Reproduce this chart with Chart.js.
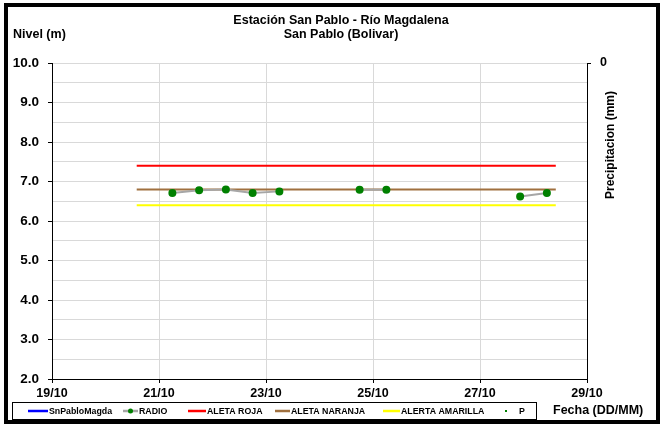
<!DOCTYPE html>
<html>
<head>
<meta charset="utf-8">
<script src="https://cdn.jsdelivr.net/npm/chart.js@4/dist/chart.umd.min.js"></script>
<style>
  html, body { margin: 0; padding: 0; background: #fff; }
  #wrap { width: 664px; height: 425px; }
</style>
</head>
<body>
<div id="wrap"><canvas id="nivelChart" width="664" height="425"></canvas></div>
<script>
const titleLines = ['Estación San Pablo - Río Magdalena', 'San Pablo (Bolivar)'];
const xTickLabels = ['19/10', '21/10', '23/10', '25/10', '27/10', '29/10'];
const radioTimes = ['21/10 06:00', '21/10 18:00', '22/10 06:00', '22/10 18:00', '23/10 06:00', '23/10 18:00',
  '24/10 06:00', '24/10 18:00', '25/10 06:00', '25/10 18:00', '26/10 06:00', '26/10 18:00',
  '27/10 06:00', '27/10 18:00', '28/10 06:00'];
const radioLevels = [6.71, 6.78, 6.80, 6.71, 6.75, null, null, 6.79, 6.79, null, null, null, null, 6.62, 6.71];
const alertTimes = ['20/10 14:00', '28/10 10:00'];
const alertaRoja = [7.4, 7.4];
const alertaNaranja = [6.8, 6.8];
const alertaAmarilla = [6.4, 6.4];
const precipTicks = [0];

const FONT = "'Liberation Sans', Arial, sans-serif";

// days since 19/10 00:00
function toDays(s) {
  const [d, t] = s.split(' ');
  const day = parseInt(d.split('/')[0], 10);
  const [hh, mm] = t.split(':').map(Number);
  return day - 19 + (hh + mm / 60) / 24;
}
function pts(times, vals) {
  return times.map((t, i) => ({ x: toDays(t), y: vals[i] }));
}

const legendItems = [
  { x: 28, w: 20, color: '#0000ff', text: 'SnPabloMagda' },
  { x: 123, w: 15, color: '#a6a6a6', dot: true, text: 'RADIO' },
  { x: 188, w: 18, color: '#ff0000', text: 'ALETA ROJA' },
  { x: 275, w: 15, color: '#a0703f', text: 'ALETA NARANJA' },
  { x: 383, w: 17, color: '#ffff00', text: 'ALERTA AMARILLA' },
  { x: 505, w: 4, color: null, smallDot: true, text: 'P' }
];

const frame = {
  id: 'frame',
  afterDraw(chart) {
    const c = chart.ctx;
    c.save();
    c.fillStyle = '#000';
    c.textAlign = 'center';
    c.textBaseline = 'middle';
    c.font = 'bold 12.5px ' + FONT;
    c.fillText(titleLines[0], 341, 21);
    c.fillText(titleLines[1], 341, 35);
    c.textAlign = 'left';
    c.fillText('Nivel (m)', 13, 35);
    c.fillText('Fecha (DD/MM)', 553, 411);

    c.save();
    c.translate(611, 145);
    c.rotate(-Math.PI / 2);
    c.textAlign = 'center';
    c.font = 'bold 12px ' + FONT;
    c.fillText('Precipitacion (mm)', 0, 0);
    c.restore();

    // legend box
    c.lineWidth = 1;
    c.strokeStyle = '#000';
    c.strokeRect(12.5, 402.5, 524, 17);
    c.font = 'bold 8.8px ' + FONT;
    legendItems.forEach(it => {
      const y = 411;
      if (it.color) {
        c.strokeStyle = it.color;
        c.lineWidth = 2.5;
        c.beginPath();
        c.moveTo(it.x, y);
        c.lineTo(it.x + it.w, y);
        c.stroke();
      }
      if (it.dot) {
        c.fillStyle = '#008000';
        c.beginPath();
        c.arc(it.x + it.w / 2, y, 2.5, 0, Math.PI * 2);
        c.fill();
      }
      if (it.smallDot) {
        c.fillStyle = '#008000';
        c.fillRect(it.x, y - 1, 2, 2);
      }
      c.fillStyle = '#000';
      c.fillText(it.text, it.smallDot ? it.x + 14 : it.x + it.w + 1, y + 0.5);
    });

    // outer border
    c.lineWidth = 4;
    c.strokeStyle = '#000';
    c.strokeRect(6, 5, 652, 417);
    c.restore();
  }
};

new Chart('nivelChart', {
  type: 'line',
  data: {
    datasets: [
      { label: 'SnPabloMagda', data: [], borderColor: '#0000ff', borderWidth: 2, pointRadius: 0 },
      {
        label: 'RADIO', data: pts(radioTimes, radioLevels), borderColor: '#a6a6a6', borderWidth: 2,
        pointRadius: 3, pointBackgroundColor: '#008000', pointBorderColor: '#008000', spanGaps: false
      },
      { label: 'ALETA ROJA', data: pts(alertTimes, alertaRoja), borderColor: '#ff0000', borderWidth: 2, pointRadius: 0 },
      { label: 'ALETA NARANJA', data: pts(alertTimes, alertaNaranja), borderColor: '#a0703f', borderWidth: 2, pointRadius: 0 },
      { label: 'ALERTA AMARILLA', data: pts(alertTimes, alertaAmarilla), borderColor: '#ffff00', borderWidth: 2, pointRadius: 0 },
      { label: 'P', data: [], borderColor: '#008000', borderWidth: 0, pointRadius: 1, yAxisID: 'y2' }
    ]
  },
  options: {
    responsive: false,
    animation: false,
    events: [],
    layout: { padding: { top: 63, left: 0, right: 0, bottom: 0 } },
    plugins: { legend: { display: false }, title: { display: false }, tooltip: { enabled: false } },
    scales: {
      x: {
        type: 'linear', min: 0, max: 10,
        afterFit: s => { s.height = 46; },
        ticks: {
          stepSize: 2, padding: 3, color: '#000',
          font: { family: FONT, size: 12.5, weight: 'bold' },
          callback: v => xTickLabels[v / 2] || ''
        },
        grid: { color: '#d9d9d9', lineWidth: 1, tickColor: '#000', tickLength: 4 },
        border: { color: '#000', width: 1 }
      },
      y: {
        min: 2, max: 10,
        afterFit: s => { s.width = 52; },
        ticks: {
          stepSize: 0.5, padding: 9, color: '#000',
          font: { family: FONT, size: 13.5, weight: 'bold' },
          callback: v => Number.isInteger(v) ? v.toFixed(1) : ''
        },
        grid: {
          color: '#d9d9d9', lineWidth: 1, tickLength: 4,
          tickColor: ctx => Number.isInteger(ctx.tick.value) ? '#000' : 'rgba(0,0,0,0)'
        },
        border: { color: '#000', width: 1 }
      },
      y2: {
        position: 'right', min: 0, max: 1, reverse: true,
        afterFit: s => { s.width = 664 - 587; },
        afterBuildTicks: s => { s.ticks = precipTicks.map(v => ({ value: v })); },
        ticks: { padding: 9, color: '#000', font: { family: FONT, size: 12.5, weight: 'bold' } },
        grid: { drawOnChartArea: false, tickColor: '#000', tickLength: 4 },
        border: { color: '#000', width: 1 }
      }
    }
  },
  plugins: [frame]
});
</script>
</body>
</html>
